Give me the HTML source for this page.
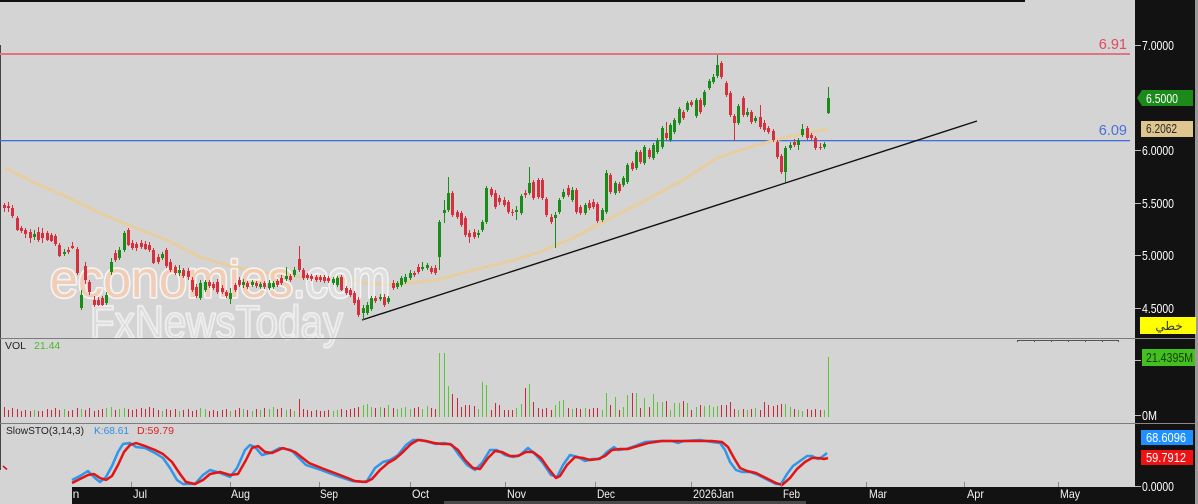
<!DOCTYPE html>
<html><head><meta charset="utf-8"><style>
html,body{margin:0;padding:0;background:#d4d4d4;overflow:hidden}
svg{display:block}
text{font-family:"Liberation Sans","Noto Sans CJK SC",sans-serif}
</style></head><body>
<svg width="1198" height="504" viewBox="0 0 1198 504" xmlns="http://www.w3.org/2000/svg">
<defs><clipPath id="ax"><rect x="72" y="487" width="1063" height="17"/></clipPath></defs>
<rect x="0" y="0" width="1198" height="504" fill="#d4d4d4"/>
<rect x="0" y="0" width="1025" height="2" fill="#111"/>
<line x1="0.5" y1="45" x2="0.5" y2="470" stroke="#444" stroke-width="1"/>

<!-- horizontal levels -->
<rect x="0" y="53" width="1130" height="2" fill="#e07482"/>
<rect x="0" y="140" width="1130" height="1.3" fill="#3f6fdc"/>
<text x="1127" y="49" font-size="14.5" fill="#e04a5c" text-anchor="end">6.91</text>
<text x="1127" y="135" font-size="14.5" fill="#4a6fd8" text-anchor="end">6.09</text>

<!-- MA -->
<polyline fill="none" stroke="#e6cea0" stroke-width="3" stroke-linejoin="round" points="5,168 33,182 67,197 100,213 133,227 167,240 200,257 233,267 267,273 300,277 333,278 367,283 390,285 407,283 437,280 473,270 507,262 540,252 573,238 607,220 640,203 650,198 683,180 717,158 750,147 783,138 807,133 828,129"/>
<!-- trendline -->
<line x1="362" y1="320" x2="977" y2="121" stroke="#111" stroke-width="1.4"/>

<!-- watermark -->
<g opacity="0.72">
<text x="50" y="297" font-size="52" textLength="243" lengthAdjust="spacingAndGlyphs" fill="#fbcba8" stroke="#ffffff" stroke-width="3.5" paint-order="stroke" stroke-linejoin="round">economies</text>
<text x="293" y="297" font-size="52" textLength="97" lengthAdjust="spacingAndGlyphs" fill="#e4e4e4" stroke="#ffffff" stroke-width="3.5" paint-order="stroke" stroke-linejoin="round">.com</text>
<text x="90" y="338" font-size="46" textLength="253" lengthAdjust="spacingAndGlyphs" fill="#dcdcdc" stroke="#f7f7f7" stroke-width="2.2" stroke-linejoin="round">FxNewsToday</text>
</g>

<!-- candles green -->
<path stroke="#1a8c1a" stroke-width="1" fill="none" d="M34.5 230V240M64.5 249V256M81.5 290V310M106.5 292V305M111.5 258V275M119.5 247V260M124.5 231V252M162.5 252V260M179.5 265V276M200.5 280V300M205.5 280V292M230.5 288V304M243.5 279V288M252.5 280V287M260.5 282V289M269.5 280V290M273.5 281V289M286.5 267V281M294.5 267V277M333.5 277V285M337.5 276V287M363.5 305V320M367.5 302V315M371.5 296V311M380.5 294V301M388.5 296V304M397.5 281V289M401.5 276V287M405.5 274V284M410.5 270V280M422.5 262V271M427.5 263V270M439.5 220V270M444.5 200V223M448.5 177V212M478.5 230V238M482.5 220V232M486.5 186V224M516.5 206V220M521.5 194V215M529.5 167V195M555.5 212V248M559.5 198V214M563.5 189V199M572.5 187V202M585.5 203V215M602.5 208V222M606.5 170V214M615.5 181V195M623.5 176V187M627.5 163V184M636.5 150V170M644.5 145V165M653.5 143V160M657.5 138V154M662.5 126V149M670.5 123V142M674.5 118V134M679.5 107V125M687.5 101V112M696.5 98V118M704.5 90V107M709.5 79V90M713.5 74V84M717.5 55V78M738.5 104V125M747.5 108V117M755.5 116V123M785.5 146V182M790.5 142V150M798.5 138V150M802.5 124V137M824.5 142V149M828.5 87V114"/>
<path fill="#1a8c1a" d="M33 234h3v3h-3zM63 252h3v2h-3zM80 295h3v13h-3zM105 295h3v8h-3zM110 262h3v10h-3zM118 250h3v8h-3zM123 233h3v17h-3zM161 254h3v4h-3zM178 270h3v3h-3zM199 283h3v15h-3zM204 282h3v8h-3zM229 293h3v6h-3zM242 282h3v3h-3zM251 282h3v3h-3zM259 284h3v3h-3zM268 283h3v5h-3zM272 283h3v4h-3zM285 276h3v3h-3zM293 270h3v5h-3zM332 279h3v4h-3zM336 278h3v7h-3zM362 308h3v5h-3zM366 305h3v8h-3zM370 298h3v11h-3zM379 297h3v2h-3zM387 298h3v4h-3zM396 283h3v4h-3zM400 278h3v7h-3zM404 277h3v5h-3zM409 273h3v5h-3zM421 267h3v2h-3zM426 265h3v3h-3zM438 222h3v35h-3zM443 210h3v3h-3zM447 193h3v17h-3zM477 233h3v2h-3zM481 222h3v8h-3zM485 188h3v34h-3zM515 210h3v2h-3zM520 196h3v17h-3zM528 183h3v10h-3zM554 215h3v3h-3zM558 200h3v12h-3zM562 192h3v5h-3zM571 190h3v10h-3zM584 205h3v8h-3zM601 210h3v10h-3zM605 173h3v39h-3zM614 183h3v10h-3zM622 178h3v7h-3zM626 165h3v17h-3zM635 152h3v16h-3zM643 147h3v16h-3zM652 145h3v13h-3zM656 140h3v12h-3zM661 128h3v19h-3zM669 125h3v15h-3zM673 120h3v12h-3zM678 109h3v14h-3zM686 103h3v7h-3zM695 100h3v16h-3zM703 92h3v13h-3zM708 81h3v7h-3zM712 77h3v5h-3zM716 65h3v11h-3zM737 106h3v17h-3zM746 112h3v3h-3zM754 118h3v3h-3zM784 148h3v24h-3zM789 145h3v3h-3zM797 140h3v5h-3zM801 129h3v6h-3zM823 144h3v3h-3zM827 98h3v15h-3z"/>
<!-- candles red -->
<path stroke="#d6303f" stroke-width="1" fill="none" d="M4.5 203V212M8.5 202V212M12.5 205V218M17.5 216V231M21.5 226V233M25.5 228V238M30.5 229V243M38.5 227V242M42.5 228V243M47.5 231V241M51.5 233V242M55.5 234V246M59.5 243V257M68.5 247V254M72.5 242V249M77.5 247V275M85.5 262V284M89.5 280V295M94.5 296V307M98.5 297V306M102.5 296V306M115.5 250V262M128.5 228V246M132.5 240V250M136.5 242V251M141.5 240V249M145.5 241V250M149.5 242V252M153.5 248V264M158.5 254V264M166.5 248V268M170.5 259V272M175.5 265V275M183.5 268V278M188.5 268V280M192.5 277V292M196.5 284V298M209.5 280V288M213.5 282V290M217.5 279V294M222.5 285V294M226.5 290V298M235.5 283V292M239.5 277V287M247.5 281V289M256.5 281V288M264.5 281V289M277.5 279V287M281.5 275V285M290.5 274V282M299.5 246V272M303.5 268V280M307.5 273V280M311.5 274V281M316.5 275V282M320.5 275V282M324.5 275V283M328.5 276V283M341.5 275V291M346.5 286V295M350.5 288V297M354.5 291V305M358.5 297V317M375.5 296V303M384.5 294V307M393.5 280V290M414.5 271V277M418.5 264V274M431.5 266V274M435.5 265V275M452.5 191V217M457.5 210V219M461.5 211V227M465.5 216V237M469.5 230V243M474.5 229V239M491.5 187V197M495.5 190V209M499.5 195V205M504.5 197V207M508.5 200V214M512.5 209V216M525.5 190V198M533.5 180V200M538.5 178V199M542.5 178V200M546.5 197V217M551.5 214V224M568.5 185V197M576.5 188V214M580.5 205V215M589.5 200V210M593.5 199V209M597.5 202V223M610.5 173V194M619.5 182V193M632.5 161V171M640.5 150V164M649.5 148V159M666.5 122V140M683.5 110V120M691.5 100V107M700.5 98V114M721.5 61V79M726.5 81V97M730.5 91V117M734.5 114V141M743.5 96V117M751.5 110V124M760.5 105V129M764.5 120V132M768.5 126V134M773.5 129V142M777.5 140V159M781.5 154V174M794.5 139V147M807.5 126V140M811.5 133V140M815.5 136V150M820.5 143V150"/>
<path fill="#d6303f" d="M3 205h3v3h-3zM7 206h3v2h-3zM11 208h3v8h-3zM16 218h3v12h-3zM20 228h3v3h-3zM24 230h3v4h-3zM29 232h3v6h-3zM37 232h3v8h-3zM41 233h3v5h-3zM46 233h3v7h-3zM50 235h3v6h-3zM54 236h3v8h-3zM58 245h3v11h-3zM67 250h3v2h-3zM71 246h3v2h-3zM76 249h3v24h-3zM84 266h3v14h-3zM88 282h3v10h-3zM93 300h3v5h-3zM97 300h3v5h-3zM101 298h3v7h-3zM114 253h3v7h-3zM127 230h3v15h-3zM131 243h3v5h-3zM135 244h3v4h-3zM140 243h3v4h-3zM144 244h3v5h-3zM148 245h3v5h-3zM152 250h3v13h-3zM157 257h3v5h-3zM165 250h3v16h-3zM169 262h3v8h-3zM174 267h3v6h-3zM182 270h3v6h-3zM187 271h3v6h-3zM191 280h3v10h-3zM195 287h3v9h-3zM208 282h3v4h-3zM212 284h3v4h-3zM216 282h3v10h-3zM221 288h3v4h-3zM225 292h3v4h-3zM234 285h3v5h-3zM238 280h3v5h-3zM246 283h3v4h-3zM255 283h3v3h-3zM263 283h3v4h-3zM276 281h3v4h-3zM280 278h3v5h-3zM289 276h3v4h-3zM298 259h3v11h-3zM302 270h3v8h-3zM306 275h3v3h-3zM310 276h3v3h-3zM315 277h3v3h-3zM319 277h3v3h-3zM323 277h3v4h-3zM327 278h3v3h-3zM340 277h3v13h-3zM345 288h3v5h-3zM349 290h3v5h-3zM353 293h3v10h-3zM357 300h3v15h-3zM374 298h3v3h-3zM383 297h3v8h-3zM392 283h3v5h-3zM413 273h3v2h-3zM417 267h3v5h-3zM430 268h3v4h-3zM434 268h3v5h-3zM451 193h3v22h-3zM456 212h3v5h-3zM460 213h3v12h-3zM464 218h3v17h-3zM468 233h3v4h-3zM473 232h3v5h-3zM490 189h3v6h-3zM494 193h3v14h-3zM498 198h3v4h-3zM503 200h3v5h-3zM507 202h3v10h-3zM511 212h3v1h-3zM524 193h3v2h-3zM532 182h3v16h-3zM537 180h3v17h-3zM541 180h3v18h-3zM545 199h3v16h-3zM550 217h3v5h-3zM567 188h3v7h-3zM575 190h3v22h-3zM579 207h3v6h-3zM588 203h3v5h-3zM592 202h3v5h-3zM596 204h3v17h-3zM609 175h3v17h-3zM618 184h3v7h-3zM631 163h3v6h-3zM639 152h3v10h-3zM648 150h3v7h-3zM665 133h3v5h-3zM682 112h3v6h-3zM690 102h3v3h-3zM699 100h3v12h-3zM720 63h3v14h-3zM725 83h3v12h-3zM729 93h3v22h-3zM733 116h3v7h-3zM742 98h3v17h-3zM750 112h3v10h-3zM759 117h3v10h-3zM763 123h3v7h-3zM767 128h3v4h-3zM772 131h3v9h-3zM776 142h3v15h-3zM780 156h3v16h-3zM793 142h3v3h-3zM806 128h3v10h-3zM810 135h3v3h-3zM814 138h3v10h-3zM819 147h3v1h-3z"/>

<!-- panel separators -->
<rect x="0" y="338" width="1195" height="1" fill="#7c7c7c"/>
<rect x="0" y="423" width="1195" height="1" fill="#7c7c7c"/>
<path stroke="#555" stroke-width="1" fill="none" d="M1017 340.5H1119M1017.5 340V342M1034.5 340V342M1051.5 340V342M1068.5 340V342M1085.5 340V342M1102.5 340V342M1118.5 340V342"/>

<!-- volume -->
<text x="5" y="349" font-size="10.5" fill="#222">VOL</text>
<text x="34" y="349" font-size="10.5" fill="#4cb82c">21.44</text>
<path stroke="#5cc43a" stroke-width="1" fill="none" d="M34.5 417V410M64.5 417V409M81.5 417V409M106.5 417V408M111.5 417V407M119.5 417V409M124.5 417V408M162.5 417V411M179.5 417V411M200.5 417V408M205.5 417V409M230.5 417V411M243.5 417V409M252.5 417V411M260.5 417V410M269.5 417V409M273.5 417V407M286.5 417V410M294.5 417V411M333.5 417V411M337.5 417V410M363.5 417V405M367.5 417V404M371.5 417V407M380.5 417V407M388.5 417V405M397.5 417V409M401.5 417V408M405.5 417V407M410.5 417V409M422.5 417V409M427.5 417V406M439.5 417V353M444.5 417V353M448.5 417V386M478.5 417V409M482.5 417V382M486.5 417V385M516.5 417V408M521.5 417V404M529.5 417V384M555.5 417V405M559.5 417V401M563.5 417V400M572.5 417V409M585.5 417V408M602.5 417V410M606.5 417V393M615.5 417V397M623.5 417V407M627.5 417V395M636.5 417V393M644.5 417V398M653.5 417V394M657.5 417V402M662.5 417V402M670.5 417V410M674.5 417V403M679.5 417V403M687.5 417V403M696.5 417V407M704.5 417V406M709.5 417V405M713.5 417V407M717.5 417V406M738.5 417V410M747.5 417V410M755.5 417V408M785.5 417V404M790.5 417V407M798.5 417V410M802.5 417V411M824.5 417V410M828.5 417V357"/>
<path stroke="#c8283a" stroke-width="1" fill="none" d="M4.5 417V407M8.5 417V410M12.5 417V408M17.5 417V409M21.5 417V411M25.5 417V410M30.5 417V411M38.5 417V411M42.5 417V411M47.5 417V409M51.5 417V410M55.5 417V408M59.5 417V410M68.5 417V411M72.5 417V410M77.5 417V408M85.5 417V410M89.5 417V408M94.5 417V411M98.5 417V410M102.5 417V409M115.5 417V410M128.5 417V409M132.5 417V410M136.5 417V409M141.5 417V408M145.5 417V409M149.5 417V407M153.5 417V408M158.5 417V410M166.5 417V409M170.5 417V410M175.5 417V409M183.5 417V410M188.5 417V409M192.5 417V411M196.5 417V410M209.5 417V411M213.5 417V410M217.5 417V411M222.5 417V410M226.5 417V409M235.5 417V410M239.5 417V408M247.5 417V410M256.5 417V409M264.5 417V408M277.5 417V409M281.5 417V408M290.5 417V409M299.5 417V399M303.5 417V409M307.5 417V410M311.5 417V411M316.5 417V410M320.5 417V411M324.5 417V411M328.5 417V410M341.5 417V409M346.5 417V410M350.5 417V409M354.5 417V408M358.5 417V407M375.5 417V408M384.5 417V408M393.5 417V408M414.5 417V408M418.5 417V407M431.5 417V408M435.5 417V409M452.5 417V394M457.5 417V398M461.5 417V407M465.5 417V405M469.5 417V405M474.5 417V406M491.5 417V410M495.5 417V403M499.5 417V405M504.5 417V410M508.5 417V410M512.5 417V410M525.5 417V388M533.5 417V402M538.5 417V408M542.5 417V409M546.5 417V408M551.5 417V410M568.5 417V408M576.5 417V408M580.5 417V409M589.5 417V409M593.5 417V408M597.5 417V408M610.5 417V405M619.5 417V410M632.5 417V393M640.5 417V408M649.5 417V407M666.5 417V401M683.5 417V401M691.5 417V410M700.5 417V405M721.5 417V405M726.5 417V405M730.5 417V402M734.5 417V409M743.5 417V409M751.5 417V409M760.5 417V410M764.5 417V402M768.5 417V405M773.5 417V406M777.5 417V405M781.5 417V404M794.5 417V409M807.5 417V409M811.5 417V410M815.5 417V409M820.5 417V410"/>

<!-- stochastic -->
<text x="6" y="434" font-size="10.5" fill="#222" textLength="78" lengthAdjust="spacingAndGlyphs">SlowSTO(3,14,3)</text>
<text x="94" y="434" font-size="10.5" fill="#2a8fe6" textLength="35" lengthAdjust="spacingAndGlyphs">K:68.61</text>
<text x="137" y="434" font-size="10.5" fill="#e02020" textLength="37" lengthAdjust="spacingAndGlyphs">D:59.79</text>
<line x1="3" y1="466" x2="7" y2="469.5" stroke="#e01010" stroke-width="1.6"/>
<polyline fill="none" stroke="#2f96ea" stroke-width="2.5" stroke-linejoin="round" points="72,480 80,476 88,471 95,478 100,482 106,477 112,466 118,452 123,444 130,443 136,447 145,448 155,453 163,458 170,468 177,480 183,484 195,484 203,475 210,470 220,473 230,477 237,468 245,450 250,445 255,447 262,455 270,453 280,448 291,450 306,465 321,470 337,476 352,481 363,482 367,481 375,468 383,462 390,460 398,455 406,445 413,440 421,440 429,442 436,444 444,443 452,445 459,455 467,465 475,470 482,463 490,450 497,450 505,455 513,457 520,455 528,448 536,455 543,463 551,475 557,477 563,465 570,455 578,457 585,461 592,459 600,459 607,452 614,447 618,450 626,449 635,446 645,442 660,441 672,441 678,443 684,441 700,440 712,442 720,443 725,450 730,462 736,470 742,472 750,472 758,475 768,480 776,484 781,484 787,474 793,466 800,461 807,456 812,456 818,459 822,457 827,453"/>
<polyline fill="none" stroke="#e41414" stroke-width="2.5" stroke-linejoin="round" points="72,483 80,479 88,475 94,474 100,478 106,480 112,476 118,465 124,452 130,445 136,443 145,446 155,450 163,454 172,462 180,474 186,482 195,484 203,480 210,474 220,472 230,475 238,474 246,460 252,448 258,446 265,452 272,453 283,448 295,452 309,463 324,469 340,475 355,481 366,482 372,479 380,470 388,463 395,459 403,452 411,444 418,440 426,441 434,443 442,444 450,444 458,450 465,460 473,468 480,469 488,458 495,451 502,452 510,456 518,456 526,452 533,452 541,458 548,468 556,478 560,476 567,465 575,457 583,458 590,460 598,459 605,456 612,450 620,449 628,449 638,446 648,443 662,441 675,441 685,441 700,441 712,441 722,442 728,447 734,458 740,468 747,471 756,473 766,478 776,483 782,485 790,478 797,469 805,462 812,458 818,458 824,459 828,458"/>
<path stroke="#8a8a8a" stroke-width="1" fill="none" d="M131.5 482V487M230.5 482V487M319.5 482V487M410.5 482V487M505.5 482V487M595.5 482V487M691.5 482V487M781.5 482V487M866.5 482V487M964.5 482V487M1058.5 482V487"/>

<!-- time axis -->
<rect x="72" y="487" width="1123" height="17" fill="#121212"/>
<rect x="444" y="501" width="362" height="3" fill="#4a4a4a"/>
<g font-size="12" fill="#f2f2f2">
<text x="60" y="498" clip-path="url(#ax)">Jun</text>
<text x="133" y="498" textLength="14" lengthAdjust="spacingAndGlyphs">Jul</text>
<text x="231" y="498" textLength="19" lengthAdjust="spacingAndGlyphs">Aug</text>
<text x="320" y="498" textLength="18" lengthAdjust="spacingAndGlyphs">Sep</text>
<text x="412" y="498" textLength="17" lengthAdjust="spacingAndGlyphs">Oct</text>
<text x="507" y="498" textLength="19" lengthAdjust="spacingAndGlyphs">Nov</text>
<text x="597" y="498" textLength="18" lengthAdjust="spacingAndGlyphs">Dec</text>
<text x="693" y="498" textLength="41" lengthAdjust="spacingAndGlyphs">2026Jan</text>
<text x="783" y="498" textLength="17" lengthAdjust="spacingAndGlyphs">Feb</text>
<text x="869" y="498" textLength="18" lengthAdjust="spacingAndGlyphs">Mar</text>
<text x="967" y="498" textLength="17" lengthAdjust="spacingAndGlyphs">Apr</text>
<text x="1060" y="498" textLength="20" lengthAdjust="spacingAndGlyphs">May</text>
</g>

<!-- right axis -->
<rect x="1135" y="0" width="60" height="504" fill="#121212"/>
<rect x="1195" y="0" width="3" height="504" fill="#9a9a9a"/>
<rect x="1135" y="338" width="60" height="1" fill="#8a8a8a"/>
<rect x="1135" y="423" width="60" height="1" fill="#8a8a8a"/>
<path stroke="#bdbdbd" stroke-width="1" fill="none" d="M1135 45.5H1141M1135 150.5H1141M1135 203.5H1141M1135 255.5H1141M1135 308.5H1141M1135 360.5H1141M1135 415.5H1141M1135 486.5H1141"/>
<g font-size="12.5" fill="#ffffff">
<text x="1142" y="50" textLength="32" lengthAdjust="spacingAndGlyphs">7.0000</text>
<text x="1142" y="155" textLength="32" lengthAdjust="spacingAndGlyphs">6.0000</text>
<text x="1142" y="208" textLength="32" lengthAdjust="spacingAndGlyphs">5.5000</text>
<text x="1142" y="260" textLength="32" lengthAdjust="spacingAndGlyphs">5.0000</text>
<text x="1142" y="313" textLength="32" lengthAdjust="spacingAndGlyphs">4.5000</text>
<text x="1142" y="420" textLength="15" lengthAdjust="spacingAndGlyphs">0M</text>
<text x="1142" y="491" textLength="32" lengthAdjust="spacingAndGlyphs">0.0000</text>
</g>
<polygon points="1137,98 1142,90 1193,90 1193,106 1142,106" fill="#1b8a1b"/>
<text x="1146" y="103" font-size="12.5" fill="#ffffff" textLength="32" lengthAdjust="spacingAndGlyphs">6.5000</text>
<rect x="1141" y="121" width="52" height="16" fill="#dfc68f"/>
<text x="1146" y="133" font-size="12.5" fill="#2a2a2a" textLength="31" lengthAdjust="spacingAndGlyphs">6.2062</text>
<rect x="1140" y="317" width="56" height="17" fill="#ffff00"/>
<text x="1169" y="330" font-size="12" fill="#333" text-anchor="middle">خطي</text>
<rect x="1142" y="349" width="53" height="17" fill="#43c01f"/>
<text x="1146" y="362" font-size="12.5" fill="#123a05" textLength="47" lengthAdjust="spacingAndGlyphs">21.4395M</text>
<rect x="1141" y="430" width="52" height="15" fill="#1e90ff"/>
<text x="1146" y="442" font-size="12.5" fill="#ffffff" textLength="40" lengthAdjust="spacingAndGlyphs">68.6096</text>
<rect x="1141" y="450" width="52" height="15" fill="#f01212"/>
<text x="1146" y="462" font-size="12.5" fill="#ffffff" textLength="40" lengthAdjust="spacingAndGlyphs">59.7912</text>
</svg>
</body></html>
